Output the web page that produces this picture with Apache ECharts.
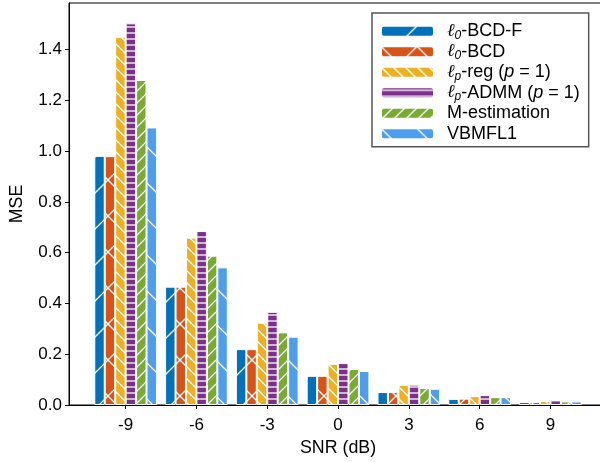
<!DOCTYPE html>
<html>
<head>
<meta charset="utf-8">
<style>
  html, body { margin: 0; padding: 0; background: #fff; overflow: hidden; }
  #chart { width: 612px; height: 462px; }
</style>
<script src="https://cdn.jsdelivr.net/npm/echarts@6/dist/echarts.min.js"></script>
</head>
<body>
<div id="chart"></div>
<script>
// SNR levels on the x axis (dB)
const snr = [-9, -6, -3, 0, 3, 6, 9];
const yTicks = [0, 0.2, 0.4, 0.6, 0.8, 1.0, 1.2, 1.4];

// Method names, in legend order
const methodNames = ['ℓ0-BCD-F', 'ℓ0-BCD', 'ℓp-reg (p = 1)', 'ℓp-ADMM (p = 1)', 'M-estimation', 'VBMFL1'];

// MSE per method, one value per SNR level
const bcdF   = [0.981, 0.466, 0.220, 0.115, 0.051, 0.024, 0.012];
const bcd    = [0.980, 0.466, 0.220, 0.115, 0.051, 0.025, 0.012];
const lpReg  = [1.450, 0.659, 0.324, 0.162, 0.079, 0.035, 0.016];
const lpAdmm = [1.503, 0.685, 0.367, 0.165, 0.080, 0.039, 0.018];
const mEst   = [1.280, 0.588, 0.286, 0.142, 0.067, 0.031, 0.014];
const vbmfl1 = [1.093, 0.542, 0.269, 0.134, 0.064, 0.031, 0.014];

const methodValues = [bcdF, bcd, lpReg, lpAdmm, mEst, vbmfl1];

// Hatched fills: colour plus white hatch lines drawn on a repeating tile
function hatch(color, kind, period) {
  const c = document.createElement('canvas');
  c.width = period; c.height = period;
  const g = c.getContext('2d');
  g.fillStyle = color;
  g.fillRect(0, 0, period, period);
  g.strokeStyle = '#ffffff';
  g.lineWidth = 1.3;
  const p = period;
  g.beginPath();
  if (kind === '/' || kind === 'x') {
    for (let k = -1; k <= 1; k++) { g.moveTo(k * p, p); g.lineTo(k * p + p, 0); }
  }
  if (kind === '\\' || kind === 'x') {
    for (let k = -1; k <= 1; k++) { g.moveTo(k * p, 0); g.lineTo(k * p + p, p); }
  }
  if (kind === '-') {
    g.moveTo(0, p / 2); g.lineTo(p, p / 2);
  }
  g.stroke();
  return { image: c, repeat: 'repeat' };
}

const fills = [
  hatch('#0072BD', '/', 36),
  hatch('#D95319', 'x', 36),
  hatch('#EDB120', '\\', 12),
  hatch('#7E2F8E', '-', 6),
  hatch('#77AC30', '/', 12),
  hatch('#4D9EEF', '\\', 36)
];

// Legend labels with the script ell, subscripts and italic p
const legendLabels = {
  'ℓ0-BCD-F': '{l|ℓ}{s|0}{t|-BCD-F}',
  'ℓ0-BCD': '{l|ℓ}{s|0}{t|-BCD}',
  'ℓp-reg (p = 1)': '{l|ℓ}{s|p}{t|-reg (}{i|p}{t| = 1)}',
  'ℓp-ADMM (p = 1)': '{l|ℓ}{s|p}{t|-ADMM (}{i|p}{t| = 1)}',
  'M-estimation': '{t|M-estimation}',
  'VBMFL1': '{t|VBMFL1}'
};

const FONT = '"Liberation Sans", Arial, Helvetica, sans-serif';
const LEG = 18;

const series = methodNames.map((name, i) => ({
  name: name,
  type: 'bar',
  barWidth: 10.45,
  barGap: '0%',
  itemStyle: { color: fills[i], borderColor: '#ffffff', borderWidth: 1 },
  emphasis: { disabled: true },
  data: snr.map((x, j) => [x, methodValues[i][j]])
}));

const chart = echarts.init(document.getElementById('chart'), null, { renderer: 'canvas' });
chart.setOption({
  animation: false,
  backgroundColor: '#ffffff',
  textStyle: { fontFamily: FONT },
  grid: {
    left: 66.7, top: 3, width: 540.4, height: 402,
    show: true, borderColor: '#000000', borderWidth: 1,
    containLabel: false
  },
  legend: {
    orient: 'vertical',
    left: 372, top: 13,
    padding: [8.3, 9, 3, 8],
    itemWidth: 53, itemHeight: 11, itemGap: 0.5,
    borderColor: '#555555', borderWidth: 1.5,
    backgroundColor: '#ffffff',
    data: methodNames,
    formatter: name => legendLabels[name],
    textStyle: {
      fontFamily: FONT, fontSize: LEG, color: '#000', lineHeight: 20,
      padding: [0, 0, 0, 8],
      rich: {
        t: { fontFamily: FONT, fontSize: LEG, lineHeight: 20, color: '#000' },
        l: { fontFamily: '"DejaVu Serif", serif', fontStyle: 'italic', fontSize: LEG, lineHeight: 20, color: '#000' },
        s: { fontFamily: FONT, fontStyle: 'italic', fontSize: 12, lineHeight: 12, verticalAlign: 'bottom', color: '#000' },
        i: { fontFamily: FONT, fontStyle: 'italic', fontSize: LEG, lineHeight: 20, color: '#000' }
      }
    }
  },
  xAxis: {
    type: 'value',
    min: -11.4, max: 11.4,
    name: 'SNR (dB)',
    nameLocation: 'middle',
    nameGap: 34,
    nameTextStyle: { fontFamily: FONT, fontSize: 17.8, color: '#000' },
    axisLine: { show: true, onZero: false, lineStyle: { color: '#000', width: 1 } },
    axisTick: { show: true, inside: false, length: 4, lineStyle: { color: '#000' }, customValues: snr },
    axisLabel: { show: true, margin: 12, fontFamily: FONT, fontSize: 17, color: '#000',
      customValues: snr, formatter: v => String(v) },
    splitLine: { show: false }
  },
  yAxis: {
    type: 'value',
    min: 0, max: 1.583,
    name: 'MSE',
    nameLocation: 'middle',
    nameRotate: 90,
    nameGap: 43,
    nameTextStyle: { fontFamily: FONT, fontSize: 17.8, color: '#000' },
    axisLine: { show: true, onZero: false, lineStyle: { color: '#000', width: 1 } },
    axisTick: { show: true, inside: false, length: 4, lineStyle: { color: '#000' }, customValues: yTicks },
    axisLabel: { show: true, margin: 7, fontFamily: FONT, fontSize: 17, color: '#000',
      customValues: yTicks, formatter: v => Number(v).toFixed(1) },
    splitLine: { show: false }
  },
  series: series
});
</script>
</body>
</html>
